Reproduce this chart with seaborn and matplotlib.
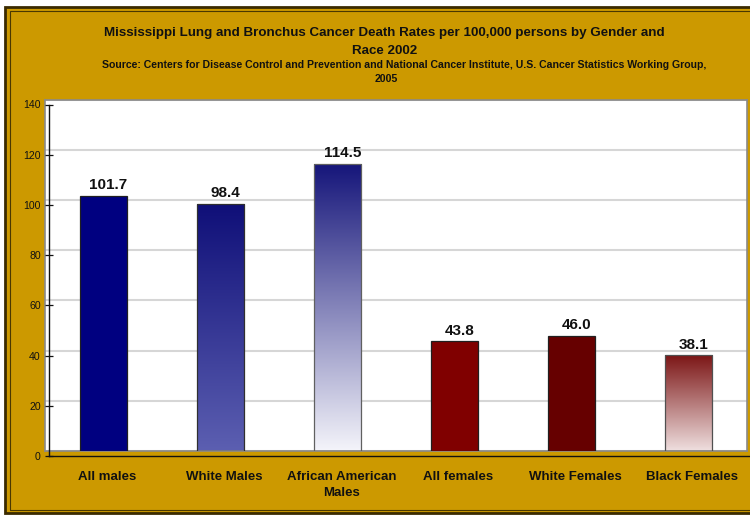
import numpy as np
import matplotlib
matplotlib.use("Agg")
import matplotlib.pyplot as plt
from matplotlib.patches import Rectangle
import seaborn as sns

# ---- data ----
categories = ["All males", "White Males", "African American\nMales",
              "All females", "White Females", "Black Females"]
values = [101.7, 98.4, 114.5, 43.8, 46.0, 38.1]
y_ticks = [0, 20, 40, 60, 80, 100, 120, 140]

title_line1 = "Mississippi Lung and Bronchus Cancer Death Rates per 100,000 persons by Gender and"
title_line2 = "Race 2002"
sub_line1 = "Source: Centers for Disease Control and Prevention and National Cancer Institute, U.S. Cancer Statistics Working Group,"
sub_line2 = "2005"

# ---- style ----
solid_colors = ["#000080", "#0f0f78", "#1a1a7e", "#800000", "#660000", "#7c1616"]
gradients = {1: ("#0f0f78", "#5c5fb1"),
             2: ("#15157a", "#f4f4fa"),
             5: ("#7c1616", "#efdfdf")}
edge_colors = ["#202020", "#303030", "#606060", "#202020", "#202020", "#505050"]
gold = "#CC9900"

sns.set_theme(style="white")
plt.rcParams["font.family"] = ["Liberation Sans", "DejaVu Sans"]

W, H = 750, 516
fig = plt.figure(figsize=(7.5, 5.16), dpi=100)
fig.patch.set_facecolor("white")

def fx(px):
    return px / W

def fy(py):
    return 1 - py / H

# frame
fig.patches.append(Rectangle((fx(5), fy(513)), fx(760) - fx(5), fy(7) - fy(513),
                             transform=fig.transFigure, facecolor=gold,
                             edgecolor="#3a2a00", linewidth=2.0, zorder=-10))
fig.patches.append(Rectangle((fx(10), fy(510)), fx(760) - fx(10), fy(11) - fy(510),
                             transform=fig.transFigure, facecolor="none",
                             edgecolor="#4a3800", linewidth=0.8, zorder=-9))

# main (back-plane) axes
ax = fig.add_axes([fx(45), fy(451), fx(747) - fx(45), fy(99.5) - fy(451)])
ax.set_zorder(1)
ax.set_facecolor("white")
sns.barplot(x=categories, y=values, hue=categories, palette=solid_colors,
            legend=False, width=0.41, saturation=1, ax=ax,
            edgecolor="#202020", linewidth=0.9)
ax.set_ylim(0, 140)
ax.set_xlim(-0.5, len(categories) - 0.5)
ax.set_yticks(y_ticks)
ax.set_yticklabels([])
ax.set_xticks([])
ax.set_xlabel("")
ax.set_ylabel("")
ax.yaxis.grid(True, color="#d6d6d6", linewidth=1.5)
ax.set_axisbelow(True)
for s in ax.spines.values():
    s.set_color("#8a8a8a")
    s.set_linewidth(1.2)
ax.tick_params(left=False, bottom=False)

bars = [p for p in ax.patches if isinstance(p, Rectangle)][:len(values)]
for i, p in enumerate(bars):
    p.set_edgecolor(edge_colors[i])
    p.set_zorder(3)
    if i in gradients:
        top, bot = gradients[i]
        c1 = np.array(matplotlib.colors.to_rgb(top))
        c2 = np.array(matplotlib.colors.to_rgb(bot))
        t = np.linspace(0, 1, 256)[:, None]
        grad = (c1[None, :] * (1 - t) + c2[None, :] * t)[:, None, :]
        x0 = p.get_x()
        im = ax.imshow(grad, extent=[x0, x0 + p.get_width(), 0, p.get_height()],
                       aspect="auto", origin="upper", zorder=2.5, interpolation="bilinear")
        im.set_clip_path(p)
        p.set_facecolor("none")

ax.set_ylim(0, 140)
ax.set_xlim(-0.5, len(categories) - 0.5)

for p, v in zip(bars, values):
    ax.annotate(f"{v:.1f}", (p.get_x() + p.get_width() / 2, p.get_height()),
                xytext=(3.5, 2.5), textcoords="offset points", ha="center", va="bottom",
                fontsize=11, fontweight="bold", color="#111111", zorder=5)

# front-plane axes (axis lines, ticks, labels)
ax2 = fig.add_axes([fx(49), fy(456), fx(747) - fx(45), fy(99.5) - fy(451)])
ax2.set_zorder(2)
ax2.set_facecolor("none")
ax2.patch.set_alpha(0)
ax2.set_xlim(-0.5, len(categories) - 0.5)
ax2.set_ylim(0, 140)
ax2.set_yticks(y_ticks)
ax2.set_yticklabels([str(t) for t in y_ticks], fontsize=7.6, color="#111111")
ax2.set_xticks(np.arange(len(categories)))
ax2.set_xticklabels(categories, fontsize=9.5, fontweight="bold", color="#111111",
                    linespacing=1.45)
ax2.set_xticks(np.arange(len(categories) + 1) - 0.5, minor=True)
ax2.tick_params(axis="x", which="major", length=0, pad=10.5)
ax2.tick_params(axis="x", which="minor", length=4, width=0.9, color="#111111", direction="out")
ax2.tick_params(axis="y", length=6, width=0.9, color="#111111", direction="inout", pad=3, left=True)
for side in ["top", "right"]:
    ax2.spines[side].set_visible(False)
for side in ["left", "bottom"]:
    ax2.spines[side].set_color("#111111")
    ax2.spines[side].set_linewidth(1.0)
ax2.grid(False)

# titles
fig.text(fx(384), fy(33), title_line1, ha="center", va="center",
         fontsize=9.6, fontweight="bold", color="#111111")
fig.text(fx(385), fy(50.5), title_line2, ha="center", va="center",
         fontsize=9.6, fontweight="bold", color="#111111")
fig.text(fx(404), fy(65.5), sub_line1, ha="center", va="center",
         fontsize=7.6, fontweight="bold", color="#111111")
fig.text(fx(386), fy(79), sub_line2, ha="center", va="center",
         fontsize=7.6, fontweight="bold", color="#111111")

fig.savefig("out.png", dpi=100, facecolor=fig.get_facecolor())
